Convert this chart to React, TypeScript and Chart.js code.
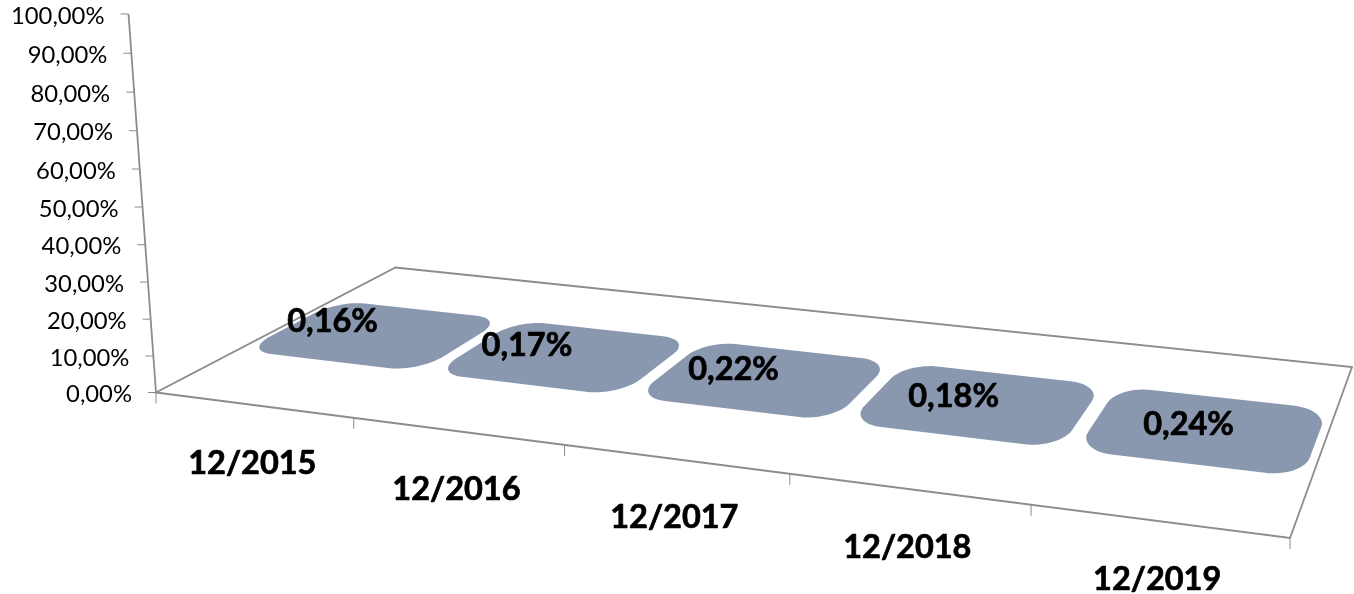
import React, { useEffect, useRef } from "react";
import { Chart, registerables } from "chart.js";

Chart.register(...registerables);

const categories = ["12/2015", "12/2016", "12/2017", "12/2018", "12/2019"];
const rates = [0.16, 0.17, 0.22, 0.18, 0.24];
const axisMax = 100;
const axisStep = 10;

const W = 1354;
const H = 594;
const LINE = "#8c8c8c";
const BAR = "#8997af";
const INK = "#000000";
const FONT = "Lato, 'Open Sans', sans-serif";

// Floor quadrilateral of the 3-D scene: front-left, front-right, back-right, back-left.
const FLOOR = [[156, 392.5], [1290, 538], [1352, 367], [395.5, 267.5]];
const WALL_TOP = [128.5, 14];
const WALL_W = 0.961;
const DEPTH_FRONT = 0.298;
const DEPTH_BACK = 0.7;
const RADIUS_U = 0.03;
const RADIUS_V = 0.11;
const LABEL_DEPTH = 0.31;
const LABEL_SHIFT = [0, -38];

function homography(q: number[][]) {
  const [[x0, y0], [x1, y1], [x2, y2], [x3, y3]] = q;
  const dx1 = x1 - x2, dx2 = x3 - x2, sx = x0 - x1 + x2 - x3;
  const dy1 = y1 - y2, dy2 = y3 - y2, sy = y0 - y1 + y2 - y3;
  const den = dx1 * dy2 - dx2 * dy1;
  const g = (sx * dy2 - dx2 * sy) / den;
  const h = (dx1 * sy - sx * dy1) / den;
  const a = x1 - x0 + g * x1, b = x3 - x0 + h * x3;
  const d = y1 - y0 + g * y1, e = y3 - y0 + h * y3;
  return (u: number, v: number): [number, number] => {
    const w = g * u + h * v + 1;
    return [(a * u + b * v + x0) / w, (d * u + e * v + y0) / w];
  };
}
const floor = homography(FLOOR);

function wall(t: number): [number, number] {
  const [ax, ay] = FLOOR[0];
  const w = (1 - t) + t * WALL_W;
  return [
    ((1 - t) * ax + t * WALL_W * WALL_TOP[0]) / w,
    ((1 - t) * ay + t * WALL_W * WALL_TOP[1]) / w,
  ];
}

function poly(ctx: CanvasRenderingContext2D, pts: [number, number][], close = false) {
  ctx.beginPath();
  pts.forEach((p, i) => (i ? ctx.lineTo(p[0], p[1]) : ctx.moveTo(p[0], p[1])));
  if (close) ctx.closePath();
}

function roundedFace(u0: number, u1: number, v0: number, v1: number, lift: number) {
  const pts: [number, number][] = [];
  const corners = [
    [u1 - RADIUS_U, v0 + RADIUS_V, -Math.PI / 2],
    [u1 - RADIUS_U, v1 - RADIUS_V, 0],
    [u0 + RADIUS_U, v1 - RADIUS_V, Math.PI / 2],
    [u0 + RADIUS_U, v0 + RADIUS_V, Math.PI],
  ];
  corners.forEach(([cu, cv, start]) => {
    for (let s = 0; s <= 16; s++) {
      const a = start + (s / 16) * (Math.PI / 2);
      const [x, y] = floor(cu + RADIUS_U * Math.cos(a), cv + RADIUS_V * Math.sin(a));
      pts.push([x, y - lift]);
    }
  });
  return pts;
}

function heavyText(ctx: CanvasRenderingContext2D, text: string, x: number, y: number, weight: number) {
  ctx.lineWidth = weight;
  ctx.lineJoin = "round";
  ctx.strokeStyle = INK;
  ctx.strokeText(text, x, y);
  ctx.fillText(text, x, y);
}

const scene = {
  id: "scene",
  beforeDatasetsDraw(chart: any) {
    const { ctx, scales } = chart;
    const xs = scales.x, ys = scales.y;
    const uOf = (px: number) => (px - xs.left) / (xs.right - xs.left);
    const tOf = (py: number) => (ys.bottom - py) / (ys.bottom - ys.top);
    ctx.save();
    ctx.lineCap = "butt";
    ctx.strokeStyle = LINE;

    // floor outline
    ctx.lineWidth = 1.8;
    poly(ctx, FLOOR as [number, number][], true);
    ctx.stroke();

    // value axis
    poly(ctx, [wall(0), wall(1)]);
    ctx.stroke();

    // category tick marks
    ctx.lineWidth = 1;
    for (let i = 0; i <= categories.length; i++) {
      const [x, y] = floor(uOf(xs.getPixelForValue(i - 0.5)), 0);
      poly(ctx, [[x, y], [x, y + 11]]);
      ctx.stroke();
    }

    // value ticks and labels
    ctx.fillStyle = INK;
    ctx.font = `23.8px ${FONT}`;
    ctx.textAlign = "right";
    ctx.textBaseline = "middle";
    ys.ticks.forEach((tick: any) => {
      const [x, y] = wall(tOf(ys.getPixelForValue(tick.value)));
      ctx.strokeStyle = LINE;
      ctx.lineWidth = 1;
      poly(ctx, [[x - 8, y], [x, y]]);
      ctx.stroke();
      ctx.fillText(tick.value.toFixed(2).replace(".", ",") + "%", x - 24, y + 2);
    });

    // bars, as flat faces on the floor
    const meta = chart.getDatasetMeta(0);
    ctx.fillStyle = BAR;
    meta.data.forEach((el: any) => {
      const u0 = uOf(el.x - el.width / 2), u1 = uOf(el.x + el.width / 2);
      const lift = (wall(0)[1] - wall(tOf(el.y))[1]);
      poly(ctx, roundedFace(u0, u1, DEPTH_FRONT, DEPTH_BACK, lift), true);
      ctx.fill();
    });

    // category labels
    ctx.fillStyle = INK;
    ctx.font = `bold 32.5px ${FONT}`;
    ctx.textAlign = "center";
    categories.forEach((c, i) => {
      const [x, y] = floor(uOf(xs.getPixelForValue(i)), 0);
      heavyText(ctx, c, x - 1, y + 58.5, 0.7);
    });

    // data labels
    meta.data.forEach((el: any, i: number) => {
      const [x, y] = floor(uOf(el.x), LABEL_DEPTH);
      heavyText(ctx, rates[i].toFixed(2).replace(".", ",") + "%", x + LABEL_SHIFT[0], y + LABEL_SHIFT[1], 0.7);
    });
    ctx.restore();
    return false;
  },
};

export default function App() {
  const ref = useRef<HTMLCanvasElement>(null);
  useEffect(() => {
    document.body.style.margin = "0";
    const chart = new Chart(ref.current!, {
      type: "bar",
      data: {
        labels: categories,
        datasets: [{ data: rates, backgroundColor: BAR, barPercentage: 0.93, categoryPercentage: 1 }],
      },
      options: {
        animation: false,
        responsive: false,
        layout: { padding: 0 },
        plugins: { legend: { display: false }, title: { display: false }, tooltip: { enabled: false } },
        scales: {
          x: { display: false },
          y: { display: false, min: 0, max: axisMax, ticks: { stepSize: axisStep } },
        },
      },
      plugins: [scene],
    } as any);
    return () => chart.destroy();
  }, []);
  return <canvas ref={ref} width={W} height={H} style={{ display: "block" }} />;
}
